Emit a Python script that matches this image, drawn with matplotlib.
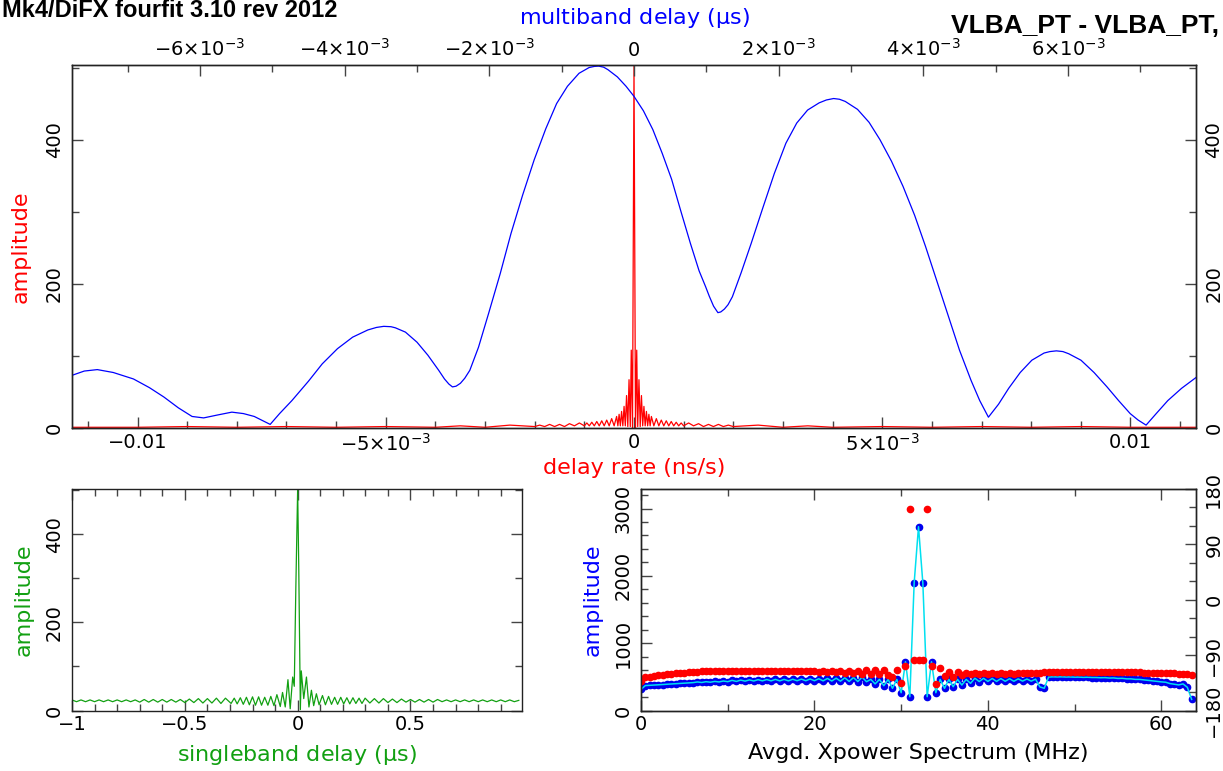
import matplotlib
matplotlib.use('Agg')
import matplotlib.pyplot as plt
import numpy as np
from matplotlib.ticker import MultipleLocator, FixedLocator, FixedFormatter, FuncFormatter

# multiband delay function (top axis, units of 1e-3 us)
mbd_x = [-7.80, -7.60, -7.42, -7.20, -6.92, -6.70, -6.50, -6.30, -6.11, -5.95, -5.76, -5.56,
         -5.40, -5.25, -5.03, -4.90, -4.73, -4.50, -4.31, -4.10, -3.89, -3.68, -3.56, -3.46, -3.36,
         -3.30, -3.16, -3.00, -2.85, -2.70, -2.62, -2.56, -2.51, -2.46, -2.40, -2.34, -2.27,
         -2.15, -2.01, -1.85, -1.70, -1.54, -1.38, -1.22, -1.07, -0.92, -0.76, -0.62, -0.55,
         -0.49, -0.42, -0.36, -0.23, -0.11, 0.00,
         0.13, 0.26, 0.39, 0.52, 0.65, 0.78, 0.90, 0.99, 1.04, 1.10, 1.16, 1.20, 1.25, 1.30,
         1.36, 1.48, 1.62, 1.78, 1.94, 2.10, 2.25, 2.40, 2.56, 2.66, 2.76, 2.84, 2.92, 3.09,
         3.25, 3.40, 3.56, 3.72, 3.88, 4.03, 4.19, 4.35, 4.50, 4.66, 4.78, 4.90, 5.04, 5.18,
         5.34, 5.50, 5.67, 5.75, 5.84, 5.93, 6.01, 6.18, 6.36, 6.54, 6.70, 6.86, 6.97, 7.08,
         7.22, 7.38, 7.57, 7.77]
mbd_amp = [72, 79, 81, 77, 68, 56, 43, 28, 16, 14, 18, 22,
           20, 16, 5, 20, 38, 65, 89, 110, 126, 136, 139.5, 141, 140.5,
           139, 133, 119, 101, 80, 68, 61, 57, 58, 62, 69, 80,
           112, 159, 214, 270, 323, 372, 415, 450, 474, 492, 500, 501.5,
           502, 500.5, 497, 487, 474, 460,
           440, 414, 381, 345, 300, 256, 218, 196, 183, 169, 160, 161, 165, 171,
           182, 215, 256, 305, 353, 395, 423, 441, 451, 455, 457, 456, 453, 442,
           424, 400, 370, 335, 295, 252, 203, 154, 108, 66, 38, 15, 33, 55,
           77, 94, 104, 106, 107, 106, 103, 94, 77, 57, 38, 20, 11, 4,
           20, 38, 55, 70]

# delay rate function (bottom axis, units of 1e-3 ns/s)
rate_x = [-11.4, -10.0, -9.0, -8.0, -7.0, -6.0, -5.0, -4.0, -3.5, -3.0, -2.5, -2.0,
          -1.90, -1.80, -1.70, -1.60, -1.50, -1.40, -1.30, -1.20, -1.10, -1.00, -0.95, -0.90,
          -0.85, -0.80, -0.75, -0.70, -0.65, -0.60, -0.55, -0.50, -0.45, -0.40, -0.35, -0.325,
          -0.30, -0.275, -0.25, -0.225, -0.20, -0.175, -0.15, -0.125, -0.10, -0.075, -0.055, -0.03,
          0.0,
          0.03, 0.055, 0.075, 0.10, 0.125, 0.15, 0.175, 0.20, 0.225, 0.25, 0.275, 0.30,
          0.325, 0.35, 0.40, 0.45, 0.50, 0.55, 0.60, 0.65, 0.70, 0.75, 0.80, 0.85,
          0.90, 0.95, 1.00, 1.10, 1.20, 1.30, 1.40, 1.50, 1.60, 1.70, 1.80, 1.90,
          2.0, 2.5, 3.0, 3.5, 4.0, 5.0, 6.0, 7.0, 8.0, 9.0, 10.0, 11.4]
rate_amp = [1, 1, 2, 1, 2, 1, 2, 1, 3, 1, 4, 2,
            4, 2, 5, 2, 5, 2, 6, 3, 7, 3, 7, 3,
            8, 3, 9, 3, 10, 3, 11, 3, 13, 3, 16, 3,
            19, 3, 23, 3, 30, 3, 45, 2, 67, 2, 108, 0,
            503,
            0, 108, 2, 67, 2, 45, 3, 30, 3, 23, 3, 19,
            3, 16, 3, 13, 3, 11, 3, 10, 3, 9, 3, 8,
            3, 7, 3, 7, 3, 6, 2, 5, 2, 5, 2, 4,
            2, 4, 1, 3, 1, 2, 1, 2, 1, 2, 1, 1]

# singleband delay function (us)
sbd_left_amp = [24, 20, 24, 20, 24, 20, 24, 20, 24, 20, 24, 20, 24, 20, 24,
                19, 25, 19, 25, 19, 25, 19, 25, 19, 25,
                18, 26, 18, 27, 17, 27, 17, 28, 16, 28]
sbd_mid_x = [-0.295, -0.281, -0.268, -0.254, -0.241, -0.227, -0.214, -0.200, -0.187, -0.173,
             -0.160, -0.146, -0.132, -0.119, -0.105, -0.092, -0.077, -0.067, -0.055, -0.043,
             -0.033, -0.022, -0.015, -0.008, 0.0, 0.005, 0.012, 0.016, 0.027, 0.039,
             0.050, 0.061, 0.071, 0.083, 0.095, 0.110, 0.123, 0.137, 0.150, 0.164,
             0.177, 0.191, 0.204, 0.218, 0.231, 0.245, 0.258, 0.272, 0.285, 0.299]
sbd_mid_amp = [16, 28, 15, 29, 14, 30, 13, 31, 12, 31,
               12, 30, 12, 32, 11, 36, 9, 41, 8, 70,
               4, 76, 55, 280, 503, 320, 2, 90, 27, 76,
               8, 46, 11, 38, 13, 34, 13, 32, 14, 30,
               14, 30, 15, 29, 15, 29, 16, 28, 16, 28]
sbd_right_amp = [17, 27, 17, 27, 18, 26, 18, 26, 19, 25,
                 19, 25, 19, 25, 19, 25, 20, 24, 20, 24,
                 20, 24, 20, 24, 20, 24, 20, 24, 20, 24, 20, 24, 20, 23]

# cross power spectrum, 128 points of 0.5 MHz
xp_amp = [314, 370, 374, 378, 382, 386, 390, 394, 398, 402, 406, 410, 414, 424, 416, 428,
          420, 432, 424, 438, 428, 448, 432, 452, 436, 455, 438, 458, 440, 460, 440, 462,
          440, 462, 440, 464, 442, 466, 442, 468, 442, 472, 440, 476, 438, 480, 436, 486,
          432, 490, 430, 496, 428, 462, 395, 462, 368, 462, 329, 462, 264, 724, 205, 1895,
          2730, 1895, 205, 724, 264, 462, 329, 462, 353, 462, 378, 462, 403, 480, 430, 478,
          432, 476, 432, 474, 434, 472, 434, 470, 436, 468, 436, 466, 350, 330, 496, 500,
          498, 500, 497, 498, 495, 496, 492, 494, 490, 490, 486, 488, 482, 484, 476, 478,
          470, 470, 462, 462, 455, 448, 440, 432, 425, 420, 400, 390, 380, 395, 345, 165]
xp_phase = [-132, -126, -125, -124, -123, -122, -121, -120, -119.5, -119, -118.5, -118, -117.5, -117, -116.5, -116,
            -116, -115.5, -115.5, -115, -115, -115, -115.5, -115.5, -116, -116, -116, -116, -116.5, -116.5, -116.5, -116.5,
            -116.5, -116.5, -116.5, -116.5, -116, -116, -116, -116, -115.5, -118, -115.5, -118, -115, -118, -115, -119,
            -115, -119, -115, -120, -114.5, -120, -114.5, -121, -114, -122, -126, -114, -135, -108, 148, -98,
            -98, -98, 148, -108, -137, -111, -124, -118, -125, -118, -122, -119, -121, -119, -120, -119,
            -120, -119, -120, -119, -120, -119, -120, -119, -119.5, -119, -119, -119, -119, -118, -118, -118,
            -118, -118, -118, -118, -118, -118, -118, -118, -118, -118, -118, -118, -118, -118, -118, -118,
            -118, -118, -118, -118, -118.5, -118.5, -119, -119, -119, -119, -119.5, -119.5, -120, -120, -121, -122]

W, H = 1223.0, 771.0


def box(left, top, right, bottom):
    return [left / W, 1 - bottom / H, (right - left) / W, (bottom - top) / H]


def style(ax):
    for s in ax.spines.values():
        s.set_color('#222222')
        s.set_linewidth(1.0)
    ax.tick_params(which='both', direction='in', colors='#444444', labelcolor='black', labelsize=14)
    ax.tick_params(which='major', length=8, width=1)
    ax.tick_params(which='minor', length=5, width=1)


def plain(v, pos):
    s = '%g' % v
    return s.replace('-', '\u2212')


plt.rcParams['font.family'] = ['DejaVu Sans']
plt.rcParams['mathtext.fontset'] = 'dejavusans'
plt.rcParams['mathtext.default'] = 'regular'

fig = plt.figure(figsize=(12.23, 7.71), dpi=100)

# ---- top panel: delay rate (red, bottom axis) and multiband delay (blue, top axis)
ax = fig.add_axes(box(72, 65, 1196, 428))
style(ax)
ax.plot(np.array(rate_x) * 1e-3, rate_amp, color='#ff0000', lw=0.9)
ax.set_xlim(-0.01132, 0.01132)
ax.set_ylim(0, 503.5)
ax.xaxis.set_major_locator(FixedLocator([-0.01, -0.005, 0, 0.005, 0.01]))
ax.xaxis.set_major_formatter(FixedFormatter(['\u22120.01', r'$-5{\times}10^{-3}$', '0',
                                             r'$5{\times}10^{-3}$', '0.01']))
ax.xaxis.set_minor_locator(MultipleLocator(0.001))
ax.yaxis.set_major_locator(MultipleLocator(200))
ax.yaxis.set_minor_locator(MultipleLocator(100))
ax.tick_params(axis='y', which='both', left=True, right=True, labelleft=True, labelright=True)
ax.tick_params(axis='y', labelrotation=90, pad=6)
for lab in ax.get_yticklabels():
    lab.set_va('center')
ax.set_ylabel('amplitude', color='#ff0000', fontsize=16, labelpad=10)
ax.set_xlabel('delay rate (ns/s)', color='#ff0000', fontsize=16, labelpad=2)

ax2 = ax.twiny()
style(ax2)
ax2.plot(np.array(mbd_x) * 1e-3, mbd_amp, color='#0000ff', lw=0.9)
ax2.set_xlim(-7.77e-3, 7.77e-3)
ax2.xaxis.set_major_locator(FixedLocator([-6e-3, -4e-3, -2e-3, 0, 2e-3, 4e-3, 6e-3]))
ax2.xaxis.set_major_formatter(FixedFormatter([r'$-6{\times}10^{-3}$', r'$-4{\times}10^{-3}$',
                                              r'$-2{\times}10^{-3}$', '0', r'$2{\times}10^{-3}$',
                                              r'$4{\times}10^{-3}$', r'$6{\times}10^{-3}$']))
ax2.xaxis.set_minor_locator(MultipleLocator(1e-3))
ax2.set_xlabel('multiband delay ($\\mu$s)', color='#0000ff', fontsize=16, labelpad=10)

# ---- bottom left: singleband delay
axs = fig.add_axes(box(72, 489, 521.5, 710.5))
style(axs)
sbd_x = list(np.round(np.arange(-1.0, -0.31, 0.02), 3)) + sbd_mid_x + list(np.round(np.arange(0.32, 0.99, 0.02), 3))
sbd_amp = sbd_left_amp + sbd_mid_amp + sbd_right_amp
axs.plot(sbd_x, sbd_amp, color='#12a012', lw=0.9)
axs.set_xlim(-1.0, 0.992)
axs.set_ylim(0, 503)
axs.xaxis.set_major_locator(MultipleLocator(0.5))
axs.xaxis.set_minor_locator(MultipleLocator(0.1))
axs.xaxis.set_major_formatter(FuncFormatter(plain))
axs.yaxis.set_major_locator(MultipleLocator(200))
axs.yaxis.set_minor_locator(MultipleLocator(100))
axs.tick_params(which='both', top=True, right=True)
axs.tick_params(axis='y', labelrotation=90, pad=6)
for lab in axs.get_yticklabels():
    lab.set_va('center')
axs.set_xlabel('singleband delay ($\\mu$s)', color='#12a012', fontsize=16, labelpad=6)
axs.set_ylabel('amplitude', color='#12a012', fontsize=16, labelpad=8)

# ---- bottom right: cross power spectrum
axp = fig.add_axes(box(641, 489, 1196, 710.5))
style(axp)
freq = np.arange(len(xp_amp)) * 0.5
axp.plot(freq, xp_amp, 'o', color='#0000ee', ms=4.5, mec='#0000ee')
axp.plot(freq, xp_amp, '-', color='#00e0f0', lw=1.1)
axp.set_xlim(0, 64)
axp.set_ylim(0, 3290)
axp.xaxis.set_major_locator(MultipleLocator(20))
axp.xaxis.set_minor_locator(MultipleLocator(10))
axp.yaxis.set_major_locator(MultipleLocator(1000))
axp.yaxis.set_minor_locator(MultipleLocator(200))
axp.tick_params(which='both', top=True, right=False)
axp.tick_params(axis='y', labelrotation=90, pad=6)
for lab in axp.get_yticklabels():
    lab.set_va('center')
axp.set_xlabel('Avgd. Xpower Spectrum (MHz)', color='black', fontsize=16, labelpad=6)
axp.set_ylabel('amplitude', color='#0000ff', fontsize=16, labelpad=8)

axph = axp.twinx()
style(axph)
axph.plot(freq, xp_phase, 'o', color='#ff0000', ms=4.5, mec='#ff0000')
axph.set_ylim(-180, 180)
axph.yaxis.set_major_locator(MultipleLocator(90))
axph.yaxis.set_minor_locator(MultipleLocator(30))
axph.yaxis.set_major_formatter(FuncFormatter(plain))
axph.tick_params(axis='y', labelrotation=90, pad=6)
for lab in axph.get_yticklabels():
    lab.set_va('center')

# ---- header text
fig.text(0.002, 1 - 17 / H, 'Mk4/DiFX fourfit 3.10 rev 2012', fontsize=17, fontweight='bold',
         family='Liberation Sans', va='baseline')
fig.text(951 / W, 1 - 33 / H, 'VLBA_PT - VLBA_PT,', fontsize=19, fontweight='bold',
         family='Liberation Sans', va='baseline')

fig.savefig('out.png', dpi=100)
